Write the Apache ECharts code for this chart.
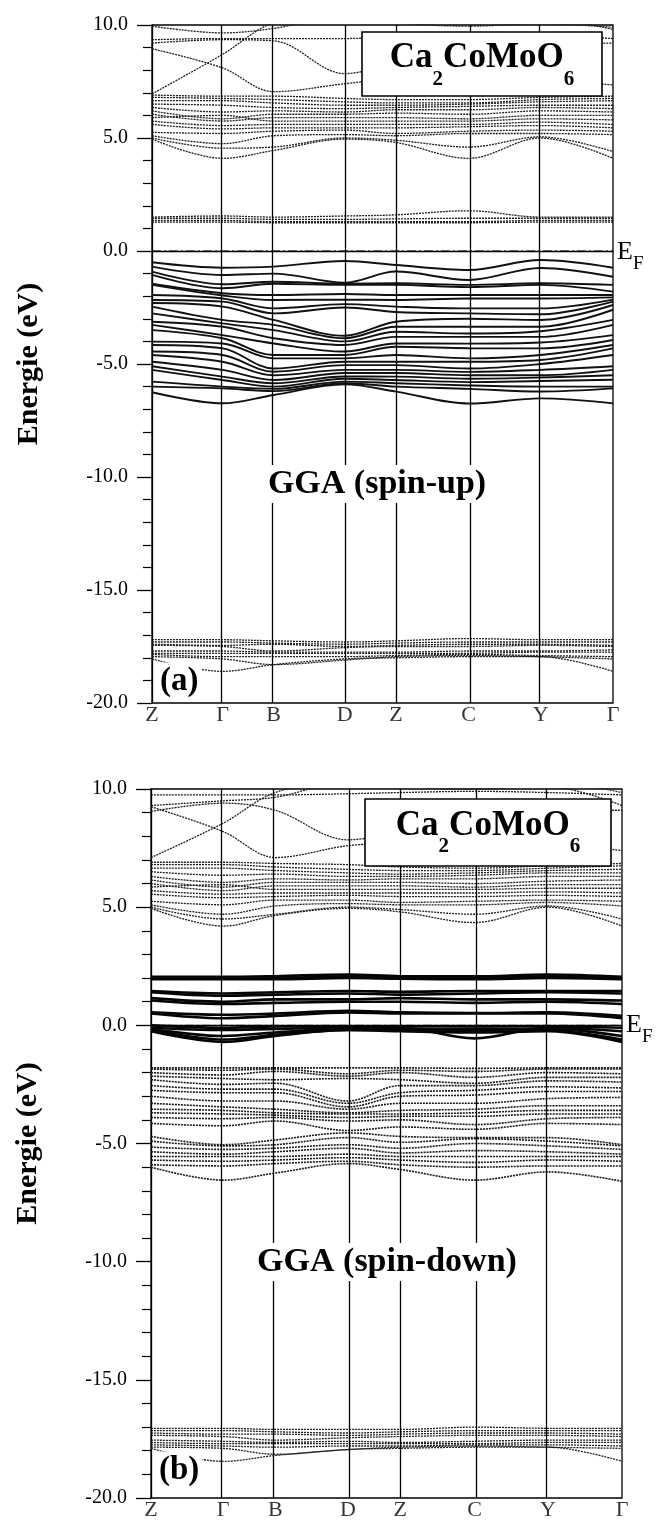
<!DOCTYPE html>
<html><head><meta charset="utf-8">
<script src="https://cdn.jsdelivr.net/npm/echarts@6/dist/echarts.min.js"></script>
<style>html,body{margin:0;padding:0;background:#fff}#c{width:661px;height:1521px}</style>
</head><body><div id="c"></div>
<script>
// k-path positions of the high-symmetry points and their labels
const K_POS = [0, 0.153, 0.264, 0.418, 0.529, 0.687, 0.843, 1.0];
const K_LABELS = ['Z', 'Γ', 'B', 'D', 'Z', 'C', 'Y', 'Γ'];

// ---- spin-up (a): energies (eV) at Z, Γ, B, D, Z, C, Y, Γ ----
const UP_SEMI = [
  [-17.20, -17.20, -17.25, -17.30, -17.25, -17.15, -17.20, -17.20],
  [-17.30, -17.30, -17.35, -17.40, -17.35, -17.30, -17.30, -17.30],
  [-17.40, -17.45, -17.40, -17.50, -17.45, -17.40, -17.40, -17.45],
  [-17.45, -17.50, -17.70, -17.55, -17.50, -17.50, -17.45, -17.50],
  [-17.70, -17.70, -17.75, -17.75, -17.75, -17.70, -17.70, -17.65],
  [-17.80, -17.80, -17.80, -17.80, -17.80, -17.80, -17.75, -17.75],
  [-17.85, -17.95, -17.95, -17.95, -17.90, -17.85, -17.90, -17.95],
  [-17.95, -18.05, -18.30, -18.10, -17.95, -17.90, -17.95, -18.05],
  [-18.05, -18.60, -18.30, -18.05, -18.00, -17.95, -17.95, -18.60]
];
const UP_VAL = [
  [-0.50, -0.74, -0.69, -0.44, -0.62, -0.84, -0.40, -0.74],
  [-0.69, -1.06, -1.00, -1.40, -0.91, -1.28, -0.75, -1.14],
  [-0.91, -1.47, -1.36, -1.45, -1.43, -1.50, -1.43, -1.50],
  [-1.06, -1.65, -1.45, -1.50, -1.50, -1.60, -1.50, -1.80],
  [-1.45, -1.87, -1.95, -1.90, -1.95, -1.95, -1.95, -1.95],
  [-1.50, -1.97, -2.17, -2.15, -2.17, -2.10, -2.10, -2.05],
  [-1.95, -2.10, -2.54, -2.35, -2.46, -2.54, -2.54, -2.15],
  [-2.17, -2.24, -2.76, -2.50, -2.70, -2.76, -2.80, -2.24],
  [-2.30, -2.46, -3.05, -3.75, -3.13, -3.00, -3.05, -2.39],
  [-2.46, -3.05, -3.27, -3.86, -3.35, -3.35, -3.35, -2.60],
  [-2.76, -3.20, -3.50, -4.00, -3.57, -3.65, -3.55, -3.05],
  [-3.13, -3.35, -3.86, -4.16, -3.80, -3.80, -3.80, -3.27],
  [-3.27, -3.72, -4.09, -4.45, -4.09, -4.10, -4.05, -3.72],
  [-3.50, -3.86, -4.60, -4.60, -4.24, -4.30, -4.31, -3.94],
  [-4.01, -4.09, -4.75, -4.75, -4.60, -4.75, -4.60, -4.16],
  [-4.16, -4.31, -5.20, -4.90, -4.90, -4.90, -4.82, -4.31],
  [-4.45, -4.60, -5.34, -5.05, -5.05, -5.20, -5.00, -4.60],
  [-4.60, -4.90, -5.50, -5.26, -5.26, -5.35, -5.26, -5.10],
  [-4.90, -5.26, -5.71, -5.40, -5.40, -5.50, -5.50, -5.26],
  [-5.10, -5.56, -5.85, -5.55, -5.56, -5.65, -5.60, -5.50],
  [-5.26, -5.71, -6.00, -5.65, -5.71, -5.80, -5.75, -5.70],
  [-5.78, -6.00, -6.10, -5.78, -5.85, -5.95, -6.00, -6.00],
  [-6.00, -6.08, -6.20, -5.85, -6.00, -6.10, -6.22, -6.08],
  [-6.25, -6.74, -6.37, -5.90, -6.22, -6.75, -6.52, -6.74]
];
const UP_COND_LOW = [
  [1.50, 1.55, 1.50, 1.55, 1.60, 1.78, 1.50, 1.50],
  [1.45, 1.45, 1.40, 1.40, 1.42, 1.45, 1.45, 1.45],
  [1.35, 1.35, 1.30, 1.30, 1.30, 1.30, 1.35, 1.35],
  [1.28, 1.28, 1.25, 1.25, 1.25, 1.25, 1.28, 1.28]
];
const UP_COND = [
  [6.90, 6.85, 6.85, 6.75, 6.70, 6.70, 6.80, 6.85],
  [6.80, 6.75, 6.70, 6.60, 6.55, 6.55, 6.70, 6.75],
  [6.65, 6.65, 6.55, 6.45, 6.45, 6.50, 6.60, 6.65],
  [6.50, 6.45, 6.35, 6.30, 6.35, 6.40, 6.45, 6.45],
  [6.35, 6.15, 6.20, 6.15, 6.25, 6.25, 6.35, 6.30],
  [6.20, 5.85, 6.05, 6.05, 6.10, 6.05, 6.20, 6.15],
  [6.05, 5.75, 5.90, 5.90, 5.90, 5.85, 6.00, 6.00],
  [5.90, 6.00, 5.75, 5.75, 5.75, 5.75, 5.85, 5.80],
  [5.75, 5.55, 5.60, 5.60, 5.60, 5.60, 5.70, 5.60],
  [5.60, 5.40, 5.45, 5.45, 5.45, 5.50, 5.55, 5.45],
  [5.25, 5.20, 5.30, 5.35, 5.20, 5.30, 5.35, 5.30],
  [5.10, 4.75, 5.10, 5.15, 5.10, 5.20, 5.20, 5.15],
  [5.00, 4.55, 4.60, 5.00, 4.90, 4.60, 5.05, 4.40],
  [4.95, 4.10, 4.45, 4.95, 4.80, 4.10, 5.00, 4.10]
];
const UP_HIGH = [
  [6.95, 8.70, 10.10, 10.50, 10.40, 10.20, 10.30, 9.80],
  [8.95, 8.10, 7.05, 7.40, 7.60, 7.30, 7.50, 7.35],
  [9.20, 9.35, 9.30, 7.85, 8.30, 8.80, 9.10, 9.20],
  [9.35, 9.40, 9.40, 9.40, 9.50, 9.60, 9.55, 9.40],
  [9.95, 9.65, 9.85, 10.40, 10.10, 9.95, 10.05, 9.90]
];

// ---- spin-down (b) ----
const DN_SEMI = [
  [-17.05, -17.05, -17.10, -17.10, -17.10, -17.00, -17.05, -17.05],
  [-17.15, -17.15, -17.20, -17.25, -17.20, -17.15, -17.15, -17.15],
  [-17.25, -17.30, -17.30, -17.35, -17.30, -17.25, -17.25, -17.30],
  [-17.35, -17.40, -17.55, -17.45, -17.40, -17.35, -17.35, -17.40],
  [-17.55, -17.60, -17.65, -17.60, -17.65, -17.60, -17.55, -17.55],
  [-17.65, -17.70, -17.70, -17.70, -17.70, -17.70, -17.65, -17.65],
  [-17.75, -17.80, -17.85, -17.80, -17.80, -17.75, -17.75, -17.80],
  [-17.85, -17.90, -18.15, -17.95, -17.85, -17.80, -17.85, -17.90],
  [-17.90, -18.45, -18.20, -17.95, -17.90, -17.85, -17.85, -18.45]
];
const DN_VAL = [
  [-1.80, -1.80, -1.80, -1.80, -1.80, -1.82, -1.80, -1.80],
  [-1.85, -1.90, -1.85, -2.05, -1.90, -1.95, -1.85, -1.85],
  [-2.00, -2.10, -1.95, -2.15, -2.00, -2.20, -2.00, -2.05],
  [-2.15, -2.25, -2.30, -2.25, -2.30, -2.45, -2.20, -2.20],
  [-2.30, -2.50, -2.45, -3.20, -2.55, -2.55, -2.35, -2.40],
  [-2.55, -2.70, -2.70, -3.30, -2.85, -2.75, -2.60, -2.65],
  [-2.75, -2.85, -2.85, -3.45, -3.00, -2.95, -2.80, -2.80],
  [-3.00, -3.20, -3.20, -3.55, -3.30, -3.30, -3.10, -3.05],
  [-3.30, -3.45, -3.55, -3.70, -3.60, -3.55, -3.40, -3.40],
  [-3.55, -3.60, -3.70, -3.75, -3.75, -3.70, -3.60, -3.60],
  [-3.70, -3.75, -3.80, -3.90, -3.85, -3.85, -3.75, -3.75],
  [-3.90, -3.95, -3.90, -4.05, -4.00, -4.20, -3.95, -3.90],
  [-4.15, -4.25, -4.05, -4.45, -4.30, -4.40, -4.15, -4.20],
  [-4.70, -5.05, -4.85, -4.55, -4.70, -4.75, -4.75, -5.05],
  [-4.90, -5.10, -5.05, -4.75, -4.95, -4.80, -4.90, -5.10],
  [-5.15, -5.25, -5.20, -5.05, -5.20, -5.00, -5.10, -5.25],
  [-5.35, -5.45, -5.35, -5.20, -5.40, -5.30, -5.35, -5.45],
  [-5.55, -5.55, -5.55, -5.45, -5.55, -5.55, -5.55, -5.55],
  [-5.70, -5.75, -5.70, -5.60, -5.70, -5.80, -5.70, -5.75],
  [-5.90, -5.95, -5.85, -5.75, -5.90, -6.00, -5.95, -5.95],
  [-6.00, -6.55, -6.25, -5.85, -6.10, -6.55, -6.20, -6.60]
];
const DN_NEAR = [
  [2.05, 2.05, 2.08, 2.15, 2.08, 2.07, 2.15, 2.05],
  [2.00, 2.00, 2.00, 2.08, 2.02, 2.00, 2.08, 2.00],
  [1.95, 1.95, 1.95, 2.00, 1.97, 1.95, 2.00, 1.95],
  [1.45, 1.35, 1.40, 1.45, 1.42, 1.45, 1.45, 1.45],
  [1.40, 1.25, 1.30, 1.35, 1.30, 1.35, 1.40, 1.35],
  [1.15, 1.00, 1.10, 1.10, 1.15, 1.10, 1.10, 1.05],
  [1.05, 0.90, 0.95, 1.00, 1.00, 0.95, 1.00, 0.90],
  [0.55, 0.45, 0.50, 0.62, 0.55, 0.52, 0.55, 0.40],
  [0.50, 0.30, 0.40, 0.55, 0.50, 0.50, 0.50, 0.30],
  [0.00, -0.10, -0.05, -0.05, -0.05, -0.05, -0.05, -0.10],
  [-0.10, -0.20, -0.15, -0.10, -0.10, -0.55, -0.10, -0.25],
  [-0.15, -0.45, -0.30, -0.15, -0.15, -0.20, -0.15, -0.45],
  [-0.20, -0.60, -0.40, -0.20, -0.20, -0.15, -0.20, -0.60],
  [-0.25, -0.70, -0.45, -0.20, -0.25, -0.30, -0.25, -0.70]
];
const DN_COND = [
  [6.90, 6.90, 6.85, 6.80, 6.70, 6.65, 6.75, 6.85],
  [6.80, 6.80, 6.70, 6.60, 6.55, 6.55, 6.65, 6.75],
  [6.65, 6.65, 6.55, 6.45, 6.40, 6.45, 6.55, 6.60],
  [6.50, 6.35, 6.40, 6.30, 6.30, 6.35, 6.45, 6.45],
  [6.30, 6.05, 6.20, 6.15, 6.20, 6.20, 6.30, 6.30],
  [6.15, 5.85, 6.05, 6.05, 6.05, 6.00, 6.10, 6.15],
  [6.00, 5.70, 5.90, 5.90, 5.90, 5.85, 5.95, 5.95],
  [5.85, 5.95, 5.75, 5.75, 5.75, 5.75, 5.80, 5.80],
  [5.70, 5.55, 5.60, 5.60, 5.60, 5.60, 5.65, 5.60],
  [5.55, 5.40, 5.45, 5.50, 5.45, 5.45, 5.50, 5.45],
  [5.25, 5.10, 5.30, 5.30, 5.20, 5.25, 5.30, 5.25],
  [5.10, 4.70, 5.05, 5.15, 5.10, 5.10, 5.20, 5.05],
  [5.00, 4.50, 4.70, 5.00, 4.90, 4.70, 5.05, 4.50],
  [4.95, 4.20, 4.65, 4.95, 4.80, 4.35, 5.00, 4.20]
];
const DN_HIGH = [
  [7.10, 8.55, 9.85, 10.40, 10.40, 10.20, 10.30, 9.85],
  [9.25, 8.20, 7.10, 7.60, 7.70, 7.40, 7.60, 7.40],
  [9.05, 9.40, 9.10, 7.85, 8.20, 8.80, 9.10, 9.10],
  [9.75, 9.75, 9.75, 9.80, 9.85, 9.90, 9.85, 9.75],
  [9.30, 9.50, 9.65, 10.30, 10.10, 10.00, 10.10, 9.30]
];

const FONT = 'Liberation Serif, Times New Roman, serif';

function bands(list, gi, style) {
  return list.map(b => ({
    type: 'line', xAxisIndex: gi, yAxisIndex: gi,
    data: b.map((v, i) => [K_POS[i], v]),
    smooth: 0.35, symbol: 'none', silent: true, animation: false, clip: true,
    lineStyle: style, z: 2
  }));
}
const S_DOT = { color: '#1e1e1e', width: 1.3, type: [2, 1] };
const S_VAL = { color: '#111', width: 1.9 };
const S_NEAR = { color: '#050505', width: 2.6 };
const S_DVAL = { color: '#1a1a1a', width: 1.6, type: [2, 1] };

function frameSeries(gi) {
  return [
    { // Fermi level line + symmetry verticals
      type: 'line', xAxisIndex: gi, yAxisIndex: gi, data: [[0, 0], [1, 0]],
      symbol: 'none', silent: true, animation: false, z: 3,
      lineStyle: { color: '#000', width: 1, type: [9, 3, 2, 3] },
      markLine: {
        silent: true, symbol: ['none', 'none'], animation: false,
        label: { show: false },
        lineStyle: { color: '#000', width: 1.3, type: 'solid' },
        data: K_POS.slice(1, 7).map(k => ({ xAxis: k }))
      }
    },
    { // k-point labels
      type: 'scatter', xAxisIndex: gi, yAxisIndex: gi, symbolSize: 0, clip: false,
      silent: true, animation: false,
      data: K_POS.map((k, i) => [k, -20, K_LABELS[i]]),
      label: { show: true, position: 'bottom', distance: 1, formatter: p => p.data[2],
        fontFamily: FONT, fontSize: 22, color: '#000' }
    }
  ];
}

function yAx(gi) {
  return {
    type: 'value', gridIndex: gi, min: -20, max: 10, interval: 5,
    axisLine: { show: true, lineStyle: { color: '#000', width: 1.3 } },
    axisTick: { show: true, inside: false, length: 15, lineStyle: { color: '#000', width: 1.3 } },
    minorTick: { show: true, splitNumber: 5, length: 9, lineStyle: { color: '#000', width: 1.2 } },
    splitLine: { show: false },
    axisLabel: { margin: 24, fontFamily: FONT, fontSize: 20, color: '#000', formatter: v => v.toFixed(1) },
    name: 'Energie (eV)', nameLocation: 'middle', nameRotate: 90, nameGap: 108,
    nameTextStyle: { fontFamily: FONT, fontWeight: 'bold', fontSize: 30, color: '#000' }
  };
}
function xAx(gi) {
  return {
    type: 'value', gridIndex: gi, min: 0, max: 1,
    axisLine: { show: true, lineStyle: { color: '#000', width: 1.3 } },
    axisTick: { show: false }, axisLabel: { show: false }, splitLine: { show: false }
  };
}

// composite texts with subscripts
const cv = document.createElement('canvas').getContext('2d');
function tw(t, font) { cv.font = font; return cv.measureText(t).width; }
function subText(yMain, ySub, parts, mSize, sSize, weight) {
  const mf = `${weight} ${mSize}px ${FONT}`, sf = `${weight} ${sSize}px ${FONT}`;
  let total = 0;
  parts.forEach(p => total += tw(p[0], p[1] ? sf : mf));
  return { total, els: (x0) => {
    let x = x0;
    return parts.map(p => {
      const el = { type: 'text', z: 101, x: x, y: p[1] ? ySub : yMain,
        style: { text: p[0], font: p[1] ? sf : mf, fill: '#000', textAlign: 'left', textVerticalAlign: 'middle' } };
      x += tw(p[0], p[1] ? sf : mf);
      return el;
    });
  } };
}
const FORM = [['Ca', 0], ['2', 1], ['CoMoO', 0], ['6', 1]];
const EF = [['E', 0], ['F', 1]];

function boxEls(x, y, w, h, yMain, ySub) {
  const st = subText(yMain, ySub, FORM, 35, 21, 'bold');
  return [{ type: 'rect', z: 100, shape: { x, y, width: w, height: h },
    style: { fill: '#fff', stroke: '#000', lineWidth: 1.6 } }].concat(st.els(x + w / 2 - st.total / 2));
}
function efEls(x, yMain, ySub) {
  return subText(yMain, ySub, EF, 26, 19, 'normal').els(x);
}
function label(text, x, y, size, align) {
  return { type: 'text', z: 101, x, y, style: { text, font: `bold ${size}px ${FONT}`, fill: '#000',
    textAlign: align, textVerticalAlign: 'middle', backgroundColor: '#fff', padding: [2, 3] } };
}

const series = [].concat(
  bands(UP_SEMI, 0, S_DOT), bands(UP_VAL, 0, S_VAL), bands(UP_COND_LOW, 0, S_DOT),
  bands(UP_COND, 0, S_DOT), bands(UP_HIGH, 0, S_DOT), frameSeries(0),
  bands(DN_SEMI, 1, S_DOT), bands(DN_VAL, 1, S_DVAL), bands(DN_NEAR, 1, S_NEAR),
  bands(DN_COND, 1, S_DOT), bands(DN_HIGH, 1, S_DOT), frameSeries(1)
);

const chart = echarts.init(document.getElementById('c'));
chart.setOption({
  animation: false,
  backgroundColor: '#fff',
  grid: [
    { left: 152, top: 25, width: 461, height: 678, show: true, borderColor: '#000', borderWidth: 1.3 },
    { left: 151, top: 789, width: 471, height: 709, show: true, borderColor: '#000', borderWidth: 1.3 }
  ],
  xAxis: [xAx(0), xAx(1)],
  yAxis: [yAx(0), yAx(1)],
  series,
  graphic: { elements: [].concat(
    boxEls(362, 32, 240, 64, 58, 80),
    boxEls(365, 799, 246, 67, 826, 847),
    efEls(617, 252, 264),
    efEls(626, 1025, 1037),
    [label('GGA (spin-up)', 377, 484, 34, 'center'),
     label('GGA (spin-down)', 387, 1262, 34, 'center'),
     label('(a)', 157, 681, 33, 'left'),
     label('(b)', 156, 1470, 33, 'left')]
  ) }
});
</script></body></html>
